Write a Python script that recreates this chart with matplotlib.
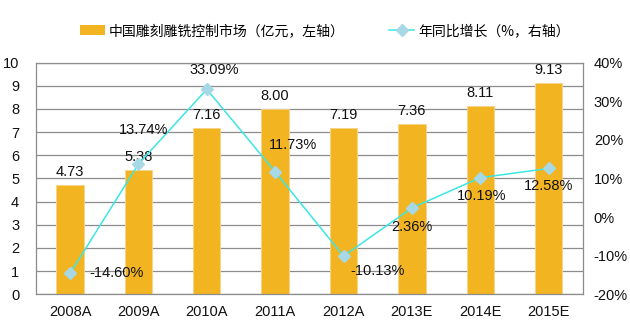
import matplotlib
matplotlib.use('Agg')
import matplotlib.pyplot as plt
from matplotlib.lines import Line2D
from matplotlib.patches import Patch

plt.rcParams['font.family'] = ['Liberation Sans', 'Noto Sans CJK SC', 'DejaVu Sans']

years = ['2008A', '2009A', '2010A', '2011A', '2012A', '2013E', '2014E', '2015E']
market = [4.73, 5.38, 7.16, 8.00, 7.19, 7.36, 8.11, 9.13]
growth = [-14.60, 13.74, 33.09, 11.73, -10.13, 2.36, 10.19, 12.58]
# label offsets in pixels for the growth labels
growth_offsets = [(46, 0), (5, 34), (7, 19), (18, 27), (34, -15), (0, -19), (1, -18), (0, -18)]

bar_color = '#F2B420'
line_color = '#3CE6E6'
marker_color = '#A6D8E6'
grid_color = '#8C8C8C'

fig = plt.figure(figsize=(6.3, 3.28), dpi=100)
ax = fig.add_axes([0.057, 0.103, 0.868, 0.706])
x = list(range(len(years)))

ax.bar(x, market, width=0.4, color=bar_color, edgecolor='#F8D48A', linewidth=0.6, zorder=2)
ax.set_xlim(-0.5, len(years) - 0.5)
ax.set_ylim(0, 10)
ax.set_yticks(range(0, 11))
ax.set_xticks(x)
ax.set_xticklabels(years)
ax.yaxis.grid(True, color=grid_color, linewidth=0.9, zorder=0)
ax.set_axisbelow(True)
ax.tick_params(length=0, labelsize=10.5, colors='#111111')
ax.tick_params(axis='x', pad=8)
ax.tick_params(axis='y', pad=12)
for s in ax.spines.values():
    s.set_color(grid_color)
    s.set_linewidth(0.9)

for xi, v in zip(x, market):
    ax.annotate(f'{v:.2f}', (xi, v), xytext=(0, 13), textcoords='offset pixels',
                ha='center', va='center', fontsize=10.5, color='#111111')

ax2 = ax.twinx()
ax2.set_ylim(-20, 40)
ax2.set_yticks(range(-20, 41, 10))
ax2.set_yticklabels([f'{t}%' for t in range(-20, 41, 10)])
ax2.tick_params(length=0, labelsize=10.5, colors='#111111', pad=8)
for s in ax2.spines.values():
    s.set_visible(False)
ax2.plot(x, growth, color=line_color, linewidth=1.1, marker='D', markersize=6.5,
         markerfacecolor=marker_color, markeredgecolor=marker_color, zorder=3)
for xi, v, off in zip(x, growth, growth_offsets):
    ax2.annotate(f'{v:.2f}%', (xi, v), xytext=off, textcoords='offset pixels',
                 ha='center', va='center', fontsize=10.5, color='#111111')

handles = [Patch(facecolor=bar_color, edgecolor='none'),
           Line2D([0], [0], color=line_color, marker='D', markersize=6.5,
                  markerfacecolor=marker_color, markeredgecolor=marker_color, linewidth=1.1)]
labels = ['中国雕刻雕铣控制市场（亿元，左轴）', '年同比增长（%，右轴）']
fig.legend(handles, labels, loc='center', bbox_to_anchor=(0.516, 0.905), ncol=2, frameon=False,
           prop={'family': ['Noto Sans CJK SC'], 'size': 10}, columnspacing=3.2,
           handlelength=1.8, handletextpad=0.3)

fig.savefig('out.png', dpi=100)
